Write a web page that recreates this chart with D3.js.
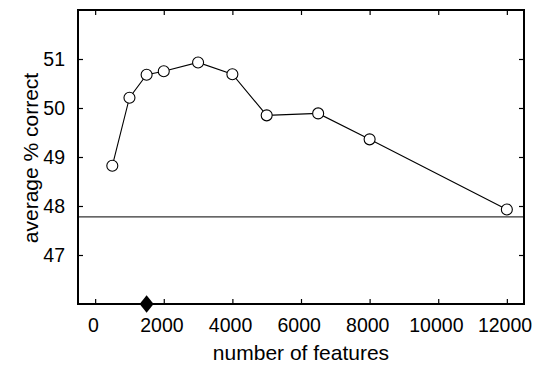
<!DOCTYPE html>
<html>
<head>
<meta charset="utf-8">
<script src="https://cdn.jsdelivr.net/npm/d3@7"></script>
<style>
  body { margin: 0; background: #fff; }
  svg text { font-family: "Liberation Sans", Arial, sans-serif; }
</style>
</head>
<body>
<div id="chart"></div>
<script>
const WIDTH = 544;
const HEIGHT = 366;
const MARGIN = { TOP: 10, BOTTOM: 62, LEFT: 78, RIGHT: 20 };
const widthSVG = WIDTH - MARGIN.LEFT - MARGIN.RIGHT;
const heightSVG = HEIGHT - MARGIN.TOP - MARGIN.BOTTOM;

// data
const features = [500, 1000, 1500, 2000, 3000, 4000, 5000, 6500, 8000, 12000];
const accuracy = [48.82, 50.21, 50.68, 50.75, 50.93, 50.69, 49.85, 49.89, 49.36, 47.93];
const baseline = 47.78;
const chosenFeatures = 1500;
const xTicks = [0, 2000, 4000, 6000, 8000, 10000, 12000];
const yTicks = [47, 48, 49, 50, 51];

const points = features.map((f, i) => ({ x: f, y: accuracy[i] }));

const svg = d3.select('#chart')
    .append('svg')
    .attr('width', WIDTH)
    .attr('height', HEIGHT);

const container = svg.append('g')
    .attr('transform', `translate(${MARGIN.LEFT}, ${MARGIN.TOP})`);

const x = d3.scaleLinear().domain([-500, 12500]).range([0, widthSVG]);
const y = d3.scaleLinear().domain([46, 52]).range([heightSVG, 0]);

const styleAxis = g => {
    g.attr('font-size', null).attr('font-family', null);
    g.select('.domain').remove();
    g.selectAll('line').attr('stroke', '#000').attr('stroke-width', 1.2);
    g.selectAll('text').attr('fill', '#000').style('font-size', '19.5px');
};

container.append('g')
    .attr('transform', `translate(0, ${heightSVG})`)
    .call(d3.axisBottom(x).tickValues(xTicks).tickSize(-5).tickSizeOuter(0).tickPadding(14).tickFormat(d3.format('d')))
    .call(styleAxis)
    .selectAll('text').attr('dx', '-0.12em');

container.append('g')
    .call(d3.axisTop(x).tickValues(xTicks).tickSize(-5).tickSizeOuter(0).tickFormat(''))
    .call(styleAxis);

container.append('g')
    .call(d3.axisLeft(y).tickValues(yTicks).tickSize(-5).tickSizeOuter(0).tickPadding(13).tickFormat(d3.format('d')))
    .call(styleAxis);

container.append('g')
    .attr('transform', `translate(${widthSVG}, 0)`)
    .call(d3.axisRight(y).tickValues(yTicks).tickSize(-5).tickSizeOuter(0).tickFormat(''))
    .call(styleAxis);

// baseline
container.append('line')
    .attr('x1', 0)
    .attr('x2', widthSVG)
    .attr('y1', y(baseline))
    .attr('y2', y(baseline))
    .attr('stroke', '#333')
    .attr('stroke-width', 1.2);

// data line
const line = d3.line().x(d => x(d.x)).y(d => y(d.y));
container.append('path')
    .datum(points)
    .attr('d', line)
    .attr('fill', 'none')
    .attr('stroke', '#000')
    .attr('stroke-width', 1.1);

container.selectAll('.pt')
    .data(points)
    .enter()
    .append('circle')
    .attr('class', 'pt')
    .attr('cx', d => x(d.x))
    .attr('cy', d => y(d.y))
    .attr('r', 5.5)
    .attr('fill', '#fff')
    .attr('stroke', '#000')
    .attr('stroke-width', 1.1);

// frame
container.append('rect')
    .attr('x', 0)
    .attr('y', 0)
    .attr('width', widthSVG)
    .attr('height', heightSVG)
    .attr('fill', 'none')
    .attr('stroke', '#000')
    .attr('stroke-width', 2);

// diamond marker on the x axis
container.append('path')
    .attr('d', d3.symbol().type(d3.symbolDiamond2).size(125))
    .attr('transform', `translate(${x(chosenFeatures)}, ${heightSVG}) scale(1, 1.25)`)
    .attr('fill', '#000');

// axis titles
svg.append('text')
    .attr('x', MARGIN.LEFT + widthSVG / 2)
    .attr('y', 360)
    .attr('text-anchor', 'middle')
    .style('font-size', '21px')
    .text('number of features');

svg.append('text')
    .attr('transform', `translate(38, ${MARGIN.TOP + heightSVG / 2 + 1}) rotate(-90)`)
    .attr('text-anchor', 'middle')
    .style('font-size', '21px')
    .text('average % correct');
</script>
</body>
</html>
